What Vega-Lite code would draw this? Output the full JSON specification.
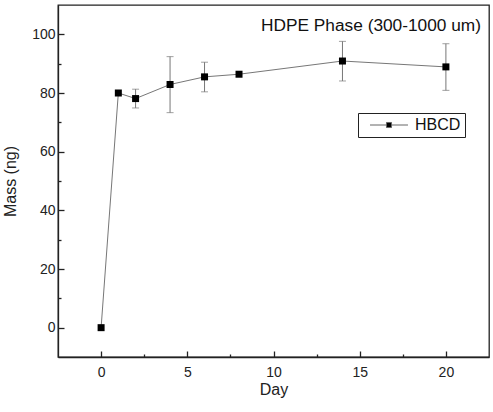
{
  "$schema": "https://vega.github.io/schema/vega-lite/v6.json",
  "width": 431,
  "height": 352,
  "autosize": {"type": "none"},
  "padding": {"left": 58, "top": 5, "right": 4, "bottom": 55},
  "background": "white",
  "config": {
    "view": {"stroke": "#222", "strokeWidth": 1.3},
    "font": "Liberation Sans"
  },
  "title": {
    "text": "HDPE Phase (300-1000 um)",
    "anchor": "end",
    "orient": "top",
    "offset": -29,
    "dx": -8,
    "fontSize": 17.3,
    "font": "Liberation Sans",
    "fontWeight": "normal",
    "color": "#111"
  },
  "data": {
    "values": [
      {"day": 0, "mass": 0, "lo": null, "hi": null, "series": "HBCD"},
      {"day": 1, "mass": 80, "lo": null, "hi": null, "series": "HBCD"},
      {"day": 2, "mass": 78.1, "lo": 74.9, "hi": 81.3, "series": "HBCD"},
      {"day": 4, "mass": 82.9, "lo": 73.3, "hi": 92.4, "series": "HBCD"},
      {"day": 6, "mass": 85.5, "lo": 80.4, "hi": 90.5, "series": "HBCD"},
      {"day": 8, "mass": 86.4, "lo": null, "hi": null, "series": "HBCD"},
      {"day": 14, "mass": 90.9, "lo": 84.1, "hi": 97.6, "series": "HBCD"},
      {"day": 20, "mass": 88.9, "lo": 80.9, "hi": 96.8, "series": "HBCD"}
    ]
  },
  "encoding": {
    "x": {
      "field": "day",
      "type": "quantitative",
      "scale": {"domain": [-2.5, 22.5], "nice": false, "zero": false},
      "axis": {
        "title": "Day",
        "values": [0, 2.5, 5, 7.5, 10, 12.5, 15, 17.5, 20],
        "labelExpr": "datum.value % 5 === 0 ? datum.label : ''",
        "tickSize": -6,
        "tickDash": {"condition": {"test": "datum.value % 5 !== 0", "value": [3, 20]}, "value": [20, 0]},
        "labelPadding": 14,
        "labelFontSize": 14,
        "labelColor": "#222",
        "labelFlush": false,
        "labelOverlap": false,
        "titleFontSize": 16,
        "titleFontWeight": "normal",
        "titleColor": "#222",
        "titlePadding": 2,
        "domainColor": "#222",
        "domainWidth": 1.3,
        "tickColor": "#222",
        "tickWidth": 1.3,
        "grid": false
      }
    }
  },
  "layer": [
    {
      "transform": [{"filter": "datum.lo != null"}],
      "mark": {
        "type": "errorbar",
        "ticks": {"size": 7, "color": "#777"},
        "rule": {"color": "#777", "strokeWidth": 1},
        "thickness": 1
      },
      "encoding": {
        "y": {
          "field": "lo",
          "type": "quantitative",
          "scale": {"domain": [-10, 110], "nice": false, "zero": false},
          "axis": {
            "title": "Mass (ng)",
            "values": [0, 10, 20, 30, 40, 50, 60, 70, 80, 90, 100],
            "labelExpr": "datum.value % 20 === 0 ? datum.label : ''",
            "tickSize": -6,
            "tickDash": {"condition": {"test": "datum.value % 20 !== 0", "value": [3, 20]}, "value": [20, 0]},
            "labelPadding": 9,
            "labelFontSize": 14,
            "labelColor": "#222",
            "labelFlush": false,
            "labelOverlap": false,
            "titleFontSize": 16,
            "titleFontWeight": "normal",
            "titleColor": "#222",
            "titlePadding": 13,
            "domainColor": "#222",
            "domainWidth": 1.3,
            "tickColor": "#222",
            "tickWidth": 1.3,
            "grid": false
          }
        },
        "y2": {"field": "hi"}
      }
    },
    {
      "mark": {"type": "line", "color": "#777", "strokeWidth": 1},
      "encoding": {
        "y": {
          "field": "mass",
          "type": "quantitative",
          "scale": {"domain": [-10, 110], "nice": false, "zero": false},
          "axis": {
            "title": "Mass (ng)",
            "values": [0, 10, 20, 30, 40, 50, 60, 70, 80, 90, 100],
            "labelExpr": "datum.value % 20 === 0 ? datum.label : ''",
            "tickSize": -6,
            "tickDash": {"condition": {"test": "datum.value % 20 !== 0", "value": [3, 20]}, "value": [20, 0]},
            "labelPadding": 9,
            "labelFontSize": 14,
            "labelColor": "#222",
            "labelFlush": false,
            "labelOverlap": false,
            "titleFontSize": 16,
            "titleFontWeight": "normal",
            "titleColor": "#222",
            "titlePadding": 13,
            "domainColor": "#222",
            "domainWidth": 1.3,
            "tickColor": "#222",
            "tickWidth": 1.3,
            "grid": false
          }
        }
      }
    },
    {
      "mark": {"type": "point", "shape": "square", "filled": true, "size": 49, "opacity": 1},
      "encoding": {
        "y": {
          "field": "mass",
          "type": "quantitative",
          "scale": {"domain": [-10, 110], "nice": false, "zero": false},
          "axis": {
            "title": "Mass (ng)",
            "values": [0, 10, 20, 30, 40, 50, 60, 70, 80, 90, 100],
            "labelExpr": "datum.value % 20 === 0 ? datum.label : ''",
            "tickSize": -6,
            "tickDash": {"condition": {"test": "datum.value % 20 !== 0", "value": [3, 20]}, "value": [20, 0]},
            "labelPadding": 9,
            "labelFontSize": 14,
            "labelColor": "#222",
            "labelFlush": false,
            "labelOverlap": false,
            "titleFontSize": 16,
            "titleFontWeight": "normal",
            "titleColor": "#222",
            "titlePadding": 13,
            "domainColor": "#222",
            "domainWidth": 1.3,
            "tickColor": "#222",
            "tickWidth": 1.3,
            "grid": false
          }
        },
        "color": {
          "field": "series",
          "type": "nominal",
          "scale": {"range": ["black"]},
          "legend": {
            "title": null,
            "orient": "none",
            "legendX": 300,
            "legendY": 108,
            "fillColor": "white",
            "strokeColor": "#222",
            "padding": 4,
            "labelFontSize": 16,
            "labelFont": "Liberation Sans",
            "labelColor": "#111",
            "symbolType": "M-3,0H-0.4M0.4,0H3M-0.4,-0.4H0.4V0.4H-0.4Z",
            "symbolSize": 160,
            "symbolOffset": 19,
            "labelOffset": 18,
            "symbolStrokeColor": "#666",
            "symbolStrokeWidth": 1,
            "symbolFillColor": "black",
            "symbolOpacity": 1
          }
        }
      }
    }
  ]
}
